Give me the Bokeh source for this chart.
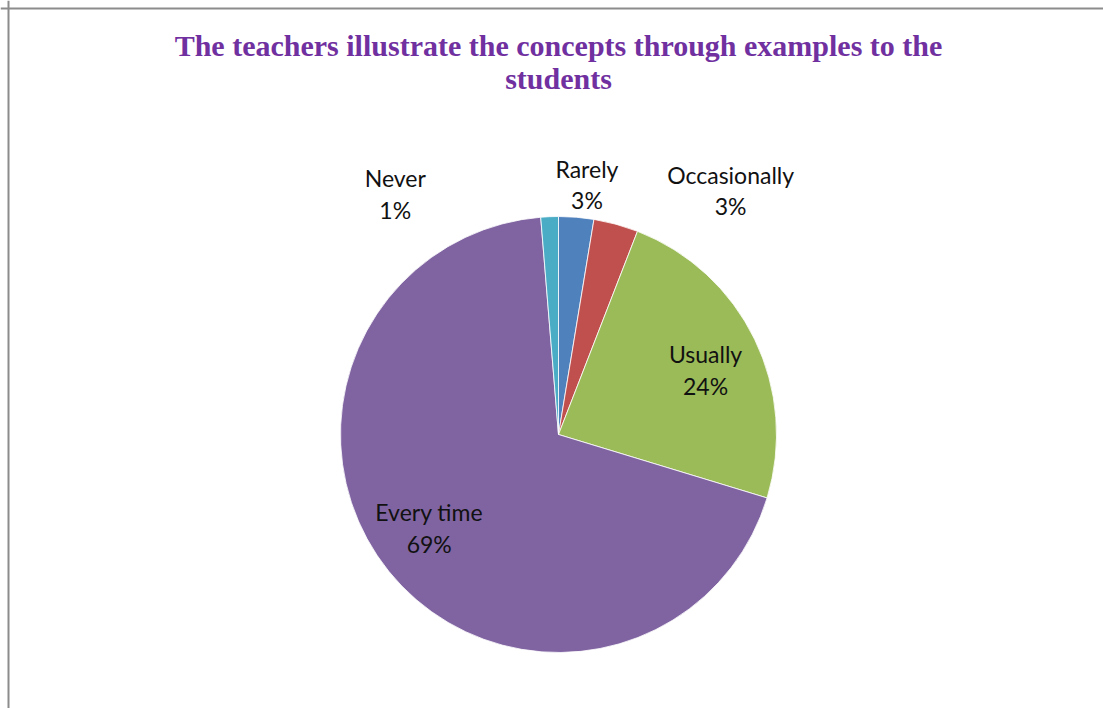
import math
from bokeh.plotting import figure
from bokeh.models import Range1d, Span, ColumnDataSource
from bokeh.core.properties import value
from bokeh.embed import file_html
from bokeh.resources import INLINE

# ---- data ----
title_lines = ["The teachers illustrate the concepts through examples to the", "students"]
categories = ["Rarely", "Occasionally", "Usually", "Every time", "Never"]
percents = [2.6, 3.3, 23.8, 69.0, 1.3]
colors = ["#4F81BD", "#C0504D", "#9BBB59", "#8064A2", "#4BACC6"]

# ---- layout / style ----
W, H = 1103, 708
cx, cy, R = 558, 274, 218          # pie centre / radius in plot units (= px)
label_r = [1.15, 1.15, 0.75, 0.75, 1.15]
label_dx = [8, 106, 0, -2, -153]
label_dy = [0, 2, -7, 9, -10]

total = sum(percents)
starts, ends, lx, ly, ltxt = [], [], [], [], []
cum = 0.0
for i, v in enumerate(percents):
    a0 = math.pi / 2 - 2 * math.pi * cum / total
    cum += v
    a1 = math.pi / 2 - 2 * math.pi * cum / total
    starts.append(a0)
    ends.append(a1)
    mid = (a0 + a1) / 2
    lx.append(cx + label_r[i] * R * math.cos(mid) + label_dx[i])
    ly.append(cy + label_r[i] * R * math.sin(mid) + label_dy[i])
    ltxt.append(f"{categories[i]}\n{int(math.floor(v / total * 100 + 0.5))}%")

src = ColumnDataSource(dict(start=starts, end=ends, color=colors, x=lx, y=ly, txt=ltxt))

p = figure(width=W, height=H, output_backend="svg", toolbar_location=None,
           x_range=Range1d(0, W), y_range=Range1d(0, H), min_border=0)
p.axis.visible = False
p.grid.visible = False
p.outline_line_color = None
p.background_fill_color = "white"
p.border_fill_color = "white"

p.wedge(x=cx, y=cy, radius=R, start_angle="start", end_angle="end", direction="clock",
        fill_color="color", line_color="white", line_width=0.8, source=src)

p.text(x="x", y="y", text="txt", source=src, text_align="center", text_baseline="middle",
       text_font=value("Lato"), text_font_size="23px", text_color="#111111",
       text_line_height=1.12)

title_y = [H - 45, H - 78]
for t, ty in zip(title_lines, title_y):
    p.text(x=[cx], y=[ty], text=[t], text_align="center", text_baseline="middle",
           text_font=value("Liberation Serif"), text_font_style="bold",
           text_font_size="30px", text_color="#7030A0")

p.add_layout(Span(location=8, dimension="height", line_color="#8C8C8C", line_width=2))
p.add_layout(Span(location=H - 8, dimension="width", line_color="#8C8C8C", line_width=2))

open("out.html", "w").write(file_html(p, INLINE))
